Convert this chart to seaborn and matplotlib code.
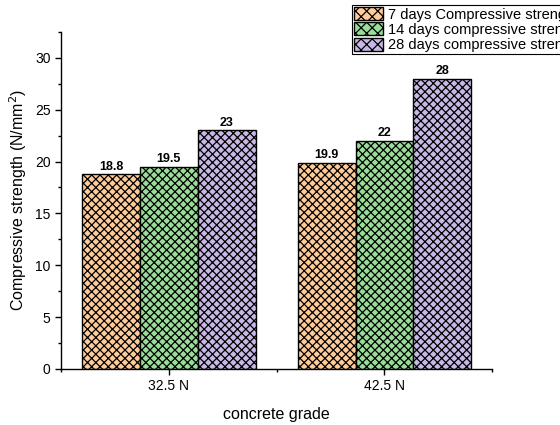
import pandas as pd
import matplotlib.pyplot as plt
import seaborn as sns
from matplotlib.ticker import MultipleLocator

grades = ["32.5 N", "42.5 N"]
series = ["7 days Compressive strength", "14 days compressive strength", "28 days compressive strength"]
day7 = [18.8, 19.9]
day14 = [19.5, 22]
day28 = [23, 28]
labels7 = ["18.8", "19.9"]
labels14 = ["19.5", "22"]
labels28 = ["23", "28"]
colors = ["#FFCC99", "#99DD99", "#C8B8E6"]

rows = []
for s, vals in zip(series, [day7, day14, day28]):
    for g, v in zip(grades, vals):
        rows.append({"grade": g, "series": s, "strength": v})
df = pd.DataFrame(rows)

sns.set_style("ticks")
plt.rcParams["font.family"] = ["Liberation Sans", "DejaVu Sans"]
plt.rcParams["hatch.linewidth"] = 0.9
plt.rcParams["text.color"] = "black"
plt.rcParams["axes.labelcolor"] = "black"
plt.rcParams["xtick.color"] = "black"
plt.rcParams["ytick.color"] = "black"
plt.rcParams["axes.edgecolor"] = "black"

fig = plt.figure(figsize=(5.6, 4.25), dpi=100)
ax = fig.add_axes([0.109, 0.132, 0.770, 0.793])

sns.barplot(data=df, x="grade", y="strength", hue="series", palette=colors,
            width=0.805, edgecolor="black", linewidth=1.0, saturation=1, ax=ax)

for c in ax.containers:
    for p in c:
        p.set_hatch("xxxx")

for c, labs in zip(ax.containers, [labels7, labels14, labels28]):
    ax.bar_label(c, labels=labs, fontsize=9, fontweight="bold", padding=1)

ax.set_xlim(-0.5, 1.5)
ax.set_ylim(0, 32.5)
ax.yaxis.set_major_locator(MultipleLocator(5))
ax.yaxis.set_minor_locator(MultipleLocator(2.5))
ax.set_xticks([-0.5, 0.5, 1.5], minor=True)
ax.tick_params(axis="both", which="major", labelsize=10, length=4, width=1)
ax.tick_params(axis="both", which="minor", length=2.5, width=1)
ax.set_xlabel("concrete grade", fontsize=11.5, labelpad=10)
ax.set_ylabel("Compressive strength (N/mm$^2$)", fontsize=11.5)
sns.despine(ax=ax)
for sp in ["left", "bottom"]:
    ax.spines[sp].set_linewidth(1)

# legend partly runs off the right edge, as in the source figure
leg = ax.legend(loc="upper left", bbox_to_anchor=(352 / 560, 1 - 5 / 425),
                bbox_transform=fig.transFigure, fontsize=10.5, frameon=True,
                fancybox=False, edgecolor="black", framealpha=1,
                borderpad=0.15, labelspacing=0.05, handlelength=2.0,
                handleheight=1.0, handletextpad=0.3, borderaxespad=0)
leg.get_frame().set_linewidth(0.8)
for h in leg.legend_handles:
    h.set_hatch("xxx")
    h.set_edgecolor("black")

fig.savefig("out.png", dpi=100)
